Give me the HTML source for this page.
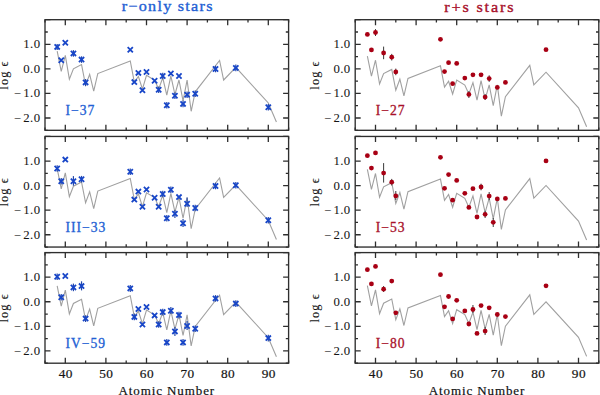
<!DOCTYPE html>
<html><head><meta charset="utf-8"><style>
html,body{margin:0;padding:0;background:#fff;overflow:hidden}
svg{display:block}
text{font-family:"Liberation Serif",serif}
.tl{font-size:11.6px;fill:#151515;stroke:#151515;stroke-width:0.05px;letter-spacing:0.35px}
.le{font-size:12.3px;fill:#151515;stroke:#151515;stroke-width:0.12px;letter-spacing:1.1px}
.sl{font-size:13.6px;letter-spacing:1.0px;stroke-width:0.3px}
.ax{font-size:13px;fill:#111;stroke:#111;stroke-width:0.2px;letter-spacing:0.9px}
.ti{font-size:15px;stroke-width:0.35px;letter-spacing:1.7px}
</style></head><body>
<svg width="600" height="395" viewBox="0 0 600 395">
<rect width="600" height="395" fill="#fff"/>
<polyline points="57.18,51.20 61.24,71.40 65.30,55.40 69.36,79.20 73.42,68.80 81.54,64.60 85.60,85.30 89.66,74.40 93.72,91.10 97.78,73.60 130.26,61.00 134.32,82.20 138.38,76.40 142.44,89.20 146.50,75.30 154.62,80.20 158.68,89.10 162.74,77.80 166.80,95.20 170.86,75.90 174.92,94.50 178.98,80.00 183.04,100.80 187.10,80.10 191.16,111.30 195.22,91.80 219.58,60.50 223.64,80.00 235.82,67.40 268.30,103.00 276.42,122.00" fill="none" stroke="#a0a0a0" stroke-width="1.1" stroke-linejoin="miter"/>
<line x1="57.18" y1="44" x2="57.18" y2="50" stroke="#2448a8" stroke-width="1.2"/>
<path d="M54.58,44.30L59.78,49.50M54.58,49.50L59.78,44.30" stroke="#1846c8" stroke-width="1.8" fill="none"/>
<path d="M58.64,57.70L63.84,62.90M58.64,62.90L63.84,57.70" stroke="#1846c8" stroke-width="1.8" fill="none"/>
<path d="M62.70,40.20L67.90,45.40M62.70,45.40L67.90,40.20" stroke="#1846c8" stroke-width="1.8" fill="none"/>
<line x1="73.42" y1="50.1" x2="73.42" y2="56.699999999999996" stroke="#2448a8" stroke-width="1.2"/>
<path d="M70.82,50.80L76.02,56.00M70.82,56.00L76.02,50.80" stroke="#1846c8" stroke-width="1.8" fill="none"/>
<line x1="81.54" y1="56.300000000000004" x2="81.54" y2="62.9" stroke="#2448a8" stroke-width="1.2"/>
<path d="M78.94,57.00L84.14,62.20M78.94,62.20L84.14,57.00" stroke="#1846c8" stroke-width="1.8" fill="none"/>
<line x1="85.60" y1="79" x2="85.60" y2="86" stroke="#2448a8" stroke-width="1.2"/>
<path d="M83.00,79.80L88.20,85.00M83.00,85.00L88.20,79.80" stroke="#1846c8" stroke-width="1.8" fill="none"/>
<path d="M127.66,47.20L132.86,52.40M127.66,52.40L132.86,47.20" stroke="#1846c8" stroke-width="1.8" fill="none"/>
<path d="M131.72,79.50L136.92,84.70M131.72,84.70L136.92,79.50" stroke="#1846c8" stroke-width="1.8" fill="none"/>
<path d="M135.78,70.30L140.98,75.50M135.78,75.50L140.98,70.30" stroke="#1846c8" stroke-width="1.8" fill="none"/>
<path d="M139.84,87.70L145.04,92.90M139.84,92.90L145.04,87.70" stroke="#1846c8" stroke-width="1.8" fill="none"/>
<path d="M143.90,69.40L149.10,74.60M143.90,74.60L149.10,69.40" stroke="#1846c8" stroke-width="1.8" fill="none"/>
<path d="M152.02,78.20L157.22,83.40M152.02,83.40L157.22,78.20" stroke="#1846c8" stroke-width="1.8" fill="none"/>
<line x1="158.68" y1="86.4" x2="158.68" y2="93.0" stroke="#2448a8" stroke-width="1.2"/>
<path d="M156.08,87.10L161.28,92.30M156.08,92.30L161.28,87.10" stroke="#1846c8" stroke-width="1.8" fill="none"/>
<line x1="162.74" y1="72.7" x2="162.74" y2="79.3" stroke="#2448a8" stroke-width="1.2"/>
<path d="M160.14,73.40L165.34,78.60M160.14,78.60L165.34,73.40" stroke="#1846c8" stroke-width="1.8" fill="none"/>
<line x1="166.80" y1="101.9" x2="166.80" y2="108.5" stroke="#2448a8" stroke-width="1.2"/>
<path d="M164.20,102.60L169.40,107.80M164.20,107.80L169.40,102.60" stroke="#1846c8" stroke-width="1.8" fill="none"/>
<path d="M168.26,70.90L173.46,76.10M168.26,76.10L173.46,70.90" stroke="#1846c8" stroke-width="1.8" fill="none"/>
<line x1="174.92" y1="92.4" x2="174.92" y2="99.0" stroke="#2448a8" stroke-width="1.2"/>
<path d="M172.32,93.10L177.52,98.30M172.32,98.30L177.52,93.10" stroke="#1846c8" stroke-width="1.8" fill="none"/>
<path d="M176.38,73.40L181.58,78.60M176.38,78.60L181.58,73.40" stroke="#1846c8" stroke-width="1.8" fill="none"/>
<line x1="183.04" y1="100.60000000000001" x2="183.04" y2="107.2" stroke="#2448a8" stroke-width="1.2"/>
<path d="M180.44,101.30L185.64,106.50M180.44,106.50L185.64,101.30" stroke="#1846c8" stroke-width="1.8" fill="none"/>
<line x1="187.10" y1="91.5" x2="187.10" y2="98.1" stroke="#2448a8" stroke-width="1.2"/>
<path d="M184.50,92.20L189.70,97.40M184.50,97.40L189.70,92.20" stroke="#1846c8" stroke-width="1.8" fill="none"/>
<line x1="195.22" y1="90.5" x2="195.22" y2="97.1" stroke="#2448a8" stroke-width="1.2"/>
<path d="M192.62,91.20L197.82,96.40M192.62,96.40L197.82,91.20" stroke="#1846c8" stroke-width="1.8" fill="none"/>
<line x1="215.52" y1="65.7" x2="215.52" y2="72.3" stroke="#2448a8" stroke-width="1.2"/>
<path d="M212.92,66.40L218.12,71.60M212.92,71.60L218.12,66.40" stroke="#1846c8" stroke-width="1.8" fill="none"/>
<line x1="235.82" y1="64.60000000000001" x2="235.82" y2="71.2" stroke="#2448a8" stroke-width="1.2"/>
<path d="M233.22,65.30L238.42,70.50M233.22,70.50L238.42,65.30" stroke="#1846c8" stroke-width="1.8" fill="none"/>
<line x1="268.30" y1="104.0" x2="268.30" y2="110.6" stroke="#2448a8" stroke-width="1.2"/>
<path d="M265.70,104.70L270.90,109.90M265.70,109.90L270.90,104.70" stroke="#1846c8" stroke-width="1.8" fill="none"/>
<path d="M45.00,130.29999999999998v-2.8M45.00,19.7v2.8M65.30,130.29999999999998v-5.5M65.30,19.7v5.5M85.60,130.29999999999998v-2.8M85.60,19.7v2.8M105.90,130.29999999999998v-5.5M105.90,19.7v5.5M126.20,130.29999999999998v-2.8M126.20,19.7v2.8M146.50,130.29999999999998v-5.5M146.50,19.7v5.5M166.80,130.29999999999998v-2.8M166.80,19.7v2.8M187.10,130.29999999999998v-5.5M187.10,19.7v5.5M207.40,130.29999999999998v-2.8M207.40,19.7v2.8M227.70,130.29999999999998v-5.5M227.70,19.7v5.5M248.00,130.29999999999998v-2.8M248.00,19.7v2.8M268.30,130.29999999999998v-5.5M268.30,19.7v5.5M288.60,130.29999999999998v-2.8M288.60,19.7v2.8M45.0,130.30h2.8M288.6,130.30h-2.8M45.0,118.01h5.5M288.6,118.01h-5.5M45.0,105.72h2.8M288.6,105.72h-2.8M45.0,93.43h5.5M288.6,93.43h-5.5M45.0,81.14h2.8M288.6,81.14h-2.8M45.0,68.86h5.5M288.6,68.86h-5.5M45.0,56.57h2.8M288.6,56.57h-2.8M45.0,44.28h5.5M288.6,44.28h-5.5M45.0,31.99h2.8M288.6,31.99h-2.8M45.0,19.70h5.5M288.6,19.70h-5.5" stroke="#2e2e2e" stroke-width="1.3" fill="none"/>
<rect x="45.0" y="19.7" width="243.6" height="110.6" fill="none" stroke="#2e2e2e" stroke-width="1.35"/>
<text class="tl" text-anchor="end" transform="translate(40.4,48.2) scale(1.1,1)">1.0</text>
<text class="tl" text-anchor="end" transform="translate(40.4,72.8) scale(1.1,1)">0.0</text>
<text class="tl" text-anchor="end" transform="translate(40.4,97.3) scale(1.1,1)">−<tspan dx="1.6">1.0</tspan></text>
<text class="tl" text-anchor="end" transform="translate(40.4,121.9) scale(1.1,1)">−<tspan dx="1.6">2.0</tspan></text>
<text x="0" y="0" class="le" text-anchor="middle" transform="translate(8.2,75.0) rotate(-90)">log ϵ</text>
<text x="65.5" y="115.3" class="sl" fill="#2260d4" stroke="#2260d4">I−37</text>
<polyline points="57.18,168.64 61.24,188.84 65.30,172.84 69.36,196.64 73.42,186.24 81.54,182.04 85.60,202.74 89.66,191.84 93.72,208.54 97.78,191.04 130.26,178.44 134.32,199.64 138.38,193.84 142.44,206.64 146.50,192.74 154.62,197.64 158.68,206.54 162.74,195.24 166.80,212.64 170.86,193.34 174.92,211.94 178.98,197.44 183.04,218.24 187.10,197.54 191.16,228.74 195.22,209.24 219.58,177.94 223.64,197.44 235.82,184.84 268.30,220.44 276.42,239.44" fill="none" stroke="#a0a0a0" stroke-width="1.1" stroke-linejoin="miter"/>
<line x1="57.18" y1="165.2" x2="57.18" y2="171.8" stroke="#2448a8" stroke-width="1.2"/>
<path d="M54.58,165.90L59.78,171.10M54.58,171.10L59.78,165.90" stroke="#1846c8" stroke-width="1.8" fill="none"/>
<line x1="61.24" y1="177.89999999999998" x2="61.24" y2="184.5" stroke="#2448a8" stroke-width="1.2"/>
<path d="M58.64,178.60L63.84,183.80M58.64,183.80L63.84,178.60" stroke="#1846c8" stroke-width="1.8" fill="none"/>
<path d="M62.70,157.00L67.90,162.20M62.70,162.20L67.90,157.00" stroke="#1846c8" stroke-width="1.8" fill="none"/>
<line x1="73.42" y1="176.1" x2="73.42" y2="185.7" stroke="#2448a8" stroke-width="1.2"/>
<path d="M70.82,178.60L76.02,183.80M70.82,183.80L76.02,178.60" stroke="#1846c8" stroke-width="1.8" fill="none"/>
<line x1="81.54" y1="175.89999999999998" x2="81.54" y2="182.5" stroke="#2448a8" stroke-width="1.2"/>
<path d="M78.94,176.60L84.14,181.80M78.94,181.80L84.14,176.60" stroke="#1846c8" stroke-width="1.8" fill="none"/>
<line x1="130.26" y1="168.5" x2="130.26" y2="175.10000000000002" stroke="#2448a8" stroke-width="1.2"/>
<path d="M127.66,169.20L132.86,174.40M127.66,174.40L132.86,169.20" stroke="#1846c8" stroke-width="1.8" fill="none"/>
<path d="M131.72,197.00L136.92,202.20M131.72,202.20L136.92,197.00" stroke="#1846c8" stroke-width="1.8" fill="none"/>
<path d="M135.78,189.00L140.98,194.20M135.78,194.20L140.98,189.00" stroke="#1846c8" stroke-width="1.8" fill="none"/>
<path d="M139.84,204.20L145.04,209.40M139.84,209.40L145.04,204.20" stroke="#1846c8" stroke-width="1.8" fill="none"/>
<path d="M143.90,186.90L149.10,192.10M143.90,192.10L149.10,186.90" stroke="#1846c8" stroke-width="1.8" fill="none"/>
<path d="M152.02,195.20L157.22,200.40M152.02,200.40L157.22,195.20" stroke="#1846c8" stroke-width="1.8" fill="none"/>
<path d="M156.08,204.20L161.28,209.40M156.08,209.40L161.28,204.20" stroke="#1846c8" stroke-width="1.8" fill="none"/>
<line x1="162.74" y1="190.7" x2="162.74" y2="197.3" stroke="#2448a8" stroke-width="1.2"/>
<path d="M160.14,191.40L165.34,196.60M160.14,196.60L165.34,191.40" stroke="#1846c8" stroke-width="1.8" fill="none"/>
<line x1="166.80" y1="215.0" x2="166.80" y2="221.60000000000002" stroke="#2448a8" stroke-width="1.2"/>
<path d="M164.20,215.70L169.40,220.90M164.20,220.90L169.40,215.70" stroke="#1846c8" stroke-width="1.8" fill="none"/>
<line x1="170.86" y1="186.5" x2="170.86" y2="193.10000000000002" stroke="#2448a8" stroke-width="1.2"/>
<path d="M168.26,187.20L173.46,192.40M168.26,192.40L173.46,187.20" stroke="#1846c8" stroke-width="1.8" fill="none"/>
<line x1="174.92" y1="210" x2="174.92" y2="218" stroke="#2448a8" stroke-width="1.2"/>
<path d="M172.32,211.20L177.52,216.40M172.32,216.40L177.52,211.20" stroke="#1846c8" stroke-width="1.8" fill="none"/>
<path d="M176.38,194.50L181.58,199.70M176.38,199.70L181.58,194.50" stroke="#1846c8" stroke-width="1.8" fill="none"/>
<line x1="183.04" y1="219" x2="183.04" y2="227" stroke="#2448a8" stroke-width="1.2"/>
<path d="M180.44,220.60L185.64,225.80M180.44,225.80L185.64,220.60" stroke="#1846c8" stroke-width="1.8" fill="none"/>
<line x1="187.10" y1="197.4" x2="187.10" y2="207" stroke="#2448a8" stroke-width="1.2"/>
<path d="M184.50,201.10L189.70,206.30M184.50,206.30L189.70,201.10" stroke="#1846c8" stroke-width="1.8" fill="none"/>
<line x1="195.22" y1="204.7" x2="195.22" y2="211.3" stroke="#2448a8" stroke-width="1.2"/>
<path d="M192.62,205.40L197.82,210.60M192.62,210.60L197.82,205.40" stroke="#1846c8" stroke-width="1.8" fill="none"/>
<line x1="215.52" y1="182.7" x2="215.52" y2="189.3" stroke="#2448a8" stroke-width="1.2"/>
<path d="M212.92,183.40L218.12,188.60M212.92,188.60L218.12,183.40" stroke="#1846c8" stroke-width="1.8" fill="none"/>
<line x1="235.82" y1="181.89999999999998" x2="235.82" y2="188.5" stroke="#2448a8" stroke-width="1.2"/>
<path d="M233.22,182.60L238.42,187.80M233.22,187.80L238.42,182.60" stroke="#1846c8" stroke-width="1.8" fill="none"/>
<line x1="268.30" y1="217.0" x2="268.30" y2="223.60000000000002" stroke="#2448a8" stroke-width="1.2"/>
<path d="M265.70,217.70L270.90,222.90M265.70,222.90L270.90,217.70" stroke="#1846c8" stroke-width="1.8" fill="none"/>
<path d="M45.00,247.04999999999998v-2.8M45.00,136.45v2.8M65.30,247.04999999999998v-5.5M65.30,136.45v5.5M85.60,247.04999999999998v-2.8M85.60,136.45v2.8M105.90,247.04999999999998v-5.5M105.90,136.45v5.5M126.20,247.04999999999998v-2.8M126.20,136.45v2.8M146.50,247.04999999999998v-5.5M146.50,136.45v5.5M166.80,247.04999999999998v-2.8M166.80,136.45v2.8M187.10,247.04999999999998v-5.5M187.10,136.45v5.5M207.40,247.04999999999998v-2.8M207.40,136.45v2.8M227.70,247.04999999999998v-5.5M227.70,136.45v5.5M248.00,247.04999999999998v-2.8M248.00,136.45v2.8M268.30,247.04999999999998v-5.5M268.30,136.45v5.5M288.60,247.04999999999998v-2.8M288.60,136.45v2.8M45.0,247.05h2.8M288.6,247.05h-2.8M45.0,234.76h5.5M288.6,234.76h-5.5M45.0,222.47h2.8M288.6,222.47h-2.8M45.0,210.18h5.5M288.6,210.18h-5.5M45.0,197.89h2.8M288.6,197.89h-2.8M45.0,185.61h5.5M288.6,185.61h-5.5M45.0,173.32h2.8M288.6,173.32h-2.8M45.0,161.03h5.5M288.6,161.03h-5.5M45.0,148.74h2.8M288.6,148.74h-2.8M45.0,136.45h5.5M288.6,136.45h-5.5" stroke="#2e2e2e" stroke-width="1.3" fill="none"/>
<rect x="45.0" y="136.45" width="243.6" height="110.6" fill="none" stroke="#2e2e2e" stroke-width="1.35"/>
<text class="tl" text-anchor="end" transform="translate(40.4,164.9) scale(1.1,1)">1.0</text>
<text class="tl" text-anchor="end" transform="translate(40.4,189.5) scale(1.1,1)">0.0</text>
<text class="tl" text-anchor="end" transform="translate(40.4,214.1) scale(1.1,1)">−<tspan dx="1.6">1.0</tspan></text>
<text class="tl" text-anchor="end" transform="translate(40.4,238.7) scale(1.1,1)">−<tspan dx="1.6">2.0</tspan></text>
<text x="0" y="0" class="le" text-anchor="middle" transform="translate(8.2,191.8) rotate(-90)">log ϵ</text>
<text x="65.5" y="232.0" class="sl" fill="#2260d4" stroke="#2260d4">III−33</text>
<polyline points="57.18,285.90 61.24,306.10 65.30,290.10 69.36,313.90 73.42,303.50 81.54,299.30 85.60,320.00 89.66,309.10 93.72,325.80 97.78,308.30 130.26,295.70 134.32,316.90 138.38,311.10 142.44,323.90 146.50,310.00 154.62,314.90 158.68,323.80 162.74,312.50 166.80,329.90 170.86,310.60 174.92,329.20 178.98,314.70 183.04,335.50 187.10,314.80 191.16,346.00 195.22,326.50 219.58,295.20 223.64,314.70 235.82,302.10 268.30,337.70 276.42,356.70" fill="none" stroke="#a0a0a0" stroke-width="1.1" stroke-linejoin="miter"/>
<line x1="57.18" y1="273.4" x2="57.18" y2="280.0" stroke="#2448a8" stroke-width="1.2"/>
<path d="M54.58,274.10L59.78,279.30M54.58,279.30L59.78,274.10" stroke="#1846c8" stroke-width="1.8" fill="none"/>
<line x1="61.24" y1="293.9" x2="61.24" y2="300.5" stroke="#2448a8" stroke-width="1.2"/>
<path d="M58.64,294.60L63.84,299.80M58.64,299.80L63.84,294.60" stroke="#1846c8" stroke-width="1.8" fill="none"/>
<path d="M62.70,273.40L67.90,278.60M62.70,278.60L67.90,273.40" stroke="#1846c8" stroke-width="1.8" fill="none"/>
<line x1="73.42" y1="283.6" x2="73.42" y2="291.2" stroke="#2448a8" stroke-width="1.2"/>
<path d="M70.82,284.80L76.02,290.00M70.82,290.00L76.02,284.80" stroke="#1846c8" stroke-width="1.8" fill="none"/>
<line x1="81.54" y1="281.3" x2="81.54" y2="290.4" stroke="#2448a8" stroke-width="1.2"/>
<path d="M78.94,283.50L84.14,288.70M78.94,288.70L84.14,283.50" stroke="#1846c8" stroke-width="1.8" fill="none"/>
<line x1="85.60" y1="315.3" x2="85.60" y2="321.90000000000003" stroke="#2448a8" stroke-width="1.2"/>
<path d="M83.00,316.00L88.20,321.20M83.00,321.20L88.20,316.00" stroke="#1846c8" stroke-width="1.8" fill="none"/>
<line x1="130.26" y1="285" x2="130.26" y2="292" stroke="#2448a8" stroke-width="1.2"/>
<path d="M127.66,285.80L132.86,291.00M127.66,291.00L132.86,285.80" stroke="#1846c8" stroke-width="1.8" fill="none"/>
<line x1="134.32" y1="313.59999999999997" x2="134.32" y2="320.2" stroke="#2448a8" stroke-width="1.2"/>
<path d="M131.72,314.30L136.92,319.50M131.72,319.50L136.92,314.30" stroke="#1846c8" stroke-width="1.8" fill="none"/>
<path d="M135.78,306.40L140.98,311.60M135.78,311.60L140.98,306.40" stroke="#1846c8" stroke-width="1.8" fill="none"/>
<path d="M139.84,321.90L145.04,327.10M139.84,327.10L145.04,321.90" stroke="#1846c8" stroke-width="1.8" fill="none"/>
<path d="M143.90,304.40L149.10,309.60M143.90,309.60L149.10,304.40" stroke="#1846c8" stroke-width="1.8" fill="none"/>
<path d="M152.02,312.80L157.22,318.00M152.02,318.00L157.22,312.80" stroke="#1846c8" stroke-width="1.8" fill="none"/>
<line x1="158.68" y1="321.2" x2="158.68" y2="327.8" stroke="#2448a8" stroke-width="1.2"/>
<path d="M156.08,321.90L161.28,327.10M156.08,327.10L161.28,321.90" stroke="#1846c8" stroke-width="1.8" fill="none"/>
<line x1="162.74" y1="308.8" x2="162.74" y2="315.40000000000003" stroke="#2448a8" stroke-width="1.2"/>
<path d="M160.14,309.50L165.34,314.70M160.14,314.70L165.34,309.50" stroke="#1846c8" stroke-width="1.8" fill="none"/>
<line x1="166.80" y1="339.09999999999997" x2="166.80" y2="345.7" stroke="#2448a8" stroke-width="1.2"/>
<path d="M164.20,339.80L169.40,345.00M164.20,345.00L169.40,339.80" stroke="#1846c8" stroke-width="1.8" fill="none"/>
<line x1="170.86" y1="307" x2="170.86" y2="314" stroke="#2448a8" stroke-width="1.2"/>
<path d="M168.26,308.20L173.46,313.40M168.26,313.40L173.46,308.20" stroke="#1846c8" stroke-width="1.8" fill="none"/>
<line x1="174.92" y1="327" x2="174.92" y2="336" stroke="#2448a8" stroke-width="1.2"/>
<path d="M172.32,328.80L177.52,334.00M172.32,334.00L177.52,328.80" stroke="#1846c8" stroke-width="1.8" fill="none"/>
<line x1="178.98" y1="311.8" x2="178.98" y2="318.40000000000003" stroke="#2448a8" stroke-width="1.2"/>
<path d="M176.38,312.50L181.58,317.70M176.38,317.70L181.58,312.50" stroke="#1846c8" stroke-width="1.8" fill="none"/>
<line x1="183.04" y1="339.09999999999997" x2="183.04" y2="345.7" stroke="#2448a8" stroke-width="1.2"/>
<path d="M180.44,339.80L185.64,345.00M180.44,345.00L185.64,339.80" stroke="#1846c8" stroke-width="1.8" fill="none"/>
<line x1="187.10" y1="321" x2="187.10" y2="330" stroke="#2448a8" stroke-width="1.2"/>
<path d="M184.50,323.40L189.70,328.60M184.50,328.60L189.70,323.40" stroke="#1846c8" stroke-width="1.8" fill="none"/>
<line x1="195.22" y1="325.5" x2="195.22" y2="332.1" stroke="#2448a8" stroke-width="1.2"/>
<path d="M192.62,326.20L197.82,331.40M192.62,331.40L197.82,326.20" stroke="#1846c8" stroke-width="1.8" fill="none"/>
<line x1="215.52" y1="295.09999999999997" x2="215.52" y2="301.7" stroke="#2448a8" stroke-width="1.2"/>
<path d="M212.92,295.80L218.12,301.00M212.92,301.00L218.12,295.80" stroke="#1846c8" stroke-width="1.8" fill="none"/>
<line x1="235.82" y1="300.3" x2="235.82" y2="306.90000000000003" stroke="#2448a8" stroke-width="1.2"/>
<path d="M233.22,301.00L238.42,306.20M233.22,306.20L238.42,301.00" stroke="#1846c8" stroke-width="1.8" fill="none"/>
<line x1="268.30" y1="334.8" x2="268.30" y2="341.40000000000003" stroke="#2448a8" stroke-width="1.2"/>
<path d="M265.70,335.50L270.90,340.70M265.70,340.70L270.90,335.50" stroke="#1846c8" stroke-width="1.8" fill="none"/>
<path d="M45.00,363.2v-2.8M45.00,252.6v2.8M65.30,363.2v-5.5M65.30,252.6v5.5M85.60,363.2v-2.8M85.60,252.6v2.8M105.90,363.2v-5.5M105.90,252.6v5.5M126.20,363.2v-2.8M126.20,252.6v2.8M146.50,363.2v-5.5M146.50,252.6v5.5M166.80,363.2v-2.8M166.80,252.6v2.8M187.10,363.2v-5.5M187.10,252.6v5.5M207.40,363.2v-2.8M207.40,252.6v2.8M227.70,363.2v-5.5M227.70,252.6v5.5M248.00,363.2v-2.8M248.00,252.6v2.8M268.30,363.2v-5.5M268.30,252.6v5.5M288.60,363.2v-2.8M288.60,252.6v2.8M45.0,363.20h2.8M288.6,363.20h-2.8M45.0,350.91h5.5M288.6,350.91h-5.5M45.0,338.62h2.8M288.6,338.62h-2.8M45.0,326.33h5.5M288.6,326.33h-5.5M45.0,314.04h2.8M288.6,314.04h-2.8M45.0,301.76h5.5M288.6,301.76h-5.5M45.0,289.47h2.8M288.6,289.47h-2.8M45.0,277.18h5.5M288.6,277.18h-5.5M45.0,264.89h2.8M288.6,264.89h-2.8M45.0,252.60h5.5M288.6,252.60h-5.5" stroke="#2e2e2e" stroke-width="1.3" fill="none"/>
<rect x="45.0" y="252.6" width="243.6" height="110.6" fill="none" stroke="#2e2e2e" stroke-width="1.35"/>
<text class="tl" text-anchor="end" transform="translate(40.4,281.1) scale(1.1,1)">1.0</text>
<text class="tl" text-anchor="end" transform="translate(40.4,305.7) scale(1.1,1)">0.0</text>
<text class="tl" text-anchor="end" transform="translate(40.4,330.2) scale(1.1,1)">−<tspan dx="1.6">1.0</tspan></text>
<text class="tl" text-anchor="end" transform="translate(40.4,354.8) scale(1.1,1)">−<tspan dx="1.6">2.0</tspan></text>
<text x="0" y="0" class="le" text-anchor="middle" transform="translate(8.2,307.9) rotate(-90)">log ϵ</text>
<text x="65.5" y="348.2" class="sl" fill="#2260d4" stroke="#2260d4">IV−59</text>
<text class="tl" style="font-size:12.1px;stroke-width:0.2px" text-anchor="middle" transform="translate(65.70,377.9) scale(1.1,1)">40</text>
<text class="tl" style="font-size:12.1px;stroke-width:0.2px" text-anchor="middle" transform="translate(106.30,377.9) scale(1.1,1)">50</text>
<text class="tl" style="font-size:12.1px;stroke-width:0.2px" text-anchor="middle" transform="translate(146.90,377.9) scale(1.1,1)">60</text>
<text class="tl" style="font-size:12.1px;stroke-width:0.2px" text-anchor="middle" transform="translate(187.50,377.9) scale(1.1,1)">70</text>
<text class="tl" style="font-size:12.1px;stroke-width:0.2px" text-anchor="middle" transform="translate(228.10,377.9) scale(1.1,1)">80</text>
<text class="tl" style="font-size:12.1px;stroke-width:0.2px" text-anchor="middle" transform="translate(268.70,377.9) scale(1.1,1)">90</text>
<text x="166.8" y="395.2" class="ax" text-anchor="middle">Atomic Number</text>
<polyline points="367.38,56.02 371.44,76.22 375.50,60.22 379.56,84.02 383.62,73.62 391.74,69.42 395.80,90.12 399.86,79.22 403.92,95.92 407.98,78.42 440.46,65.82 444.52,87.02 448.58,81.22 452.64,94.02 456.70,80.12 464.82,85.02 468.88,93.92 472.94,82.62 477.00,100.02 481.06,80.72 485.12,99.32 489.18,84.82 493.24,105.62 497.30,84.92 501.36,116.12 505.42,96.62 529.78,65.32 533.84,84.82 546.02,72.22 578.50,107.82 586.62,126.82" fill="none" stroke="#a0a0a0" stroke-width="1.1" stroke-linejoin="miter"/>
<circle cx="367.38" cy="34.40" r="2.4" fill="#a80014"/>
<circle cx="371.44" cy="49.90" r="2.4" fill="#a80014"/>
<line x1="375.50" y1="29.1" x2="375.50" y2="36" stroke="#3a3a3a" stroke-width="1.0"/>
<circle cx="375.50" cy="32.50" r="2.4" fill="#a80014"/>
<line x1="383.62" y1="46.6" x2="383.62" y2="59.2" stroke="#3a3a3a" stroke-width="1.0"/>
<circle cx="383.62" cy="53.00" r="2.4" fill="#a80014"/>
<line x1="391.74" y1="53.900000000000006" x2="391.74" y2="60.5" stroke="#3a3a3a" stroke-width="1.0"/>
<circle cx="391.74" cy="57.20" r="2.4" fill="#a80014"/>
<line x1="395.80" y1="68.60000000000001" x2="395.80" y2="75.2" stroke="#3a3a3a" stroke-width="1.0"/>
<circle cx="395.80" cy="71.90" r="2.4" fill="#a80014"/>
<circle cx="440.46" cy="39.30" r="2.4" fill="#a80014"/>
<circle cx="444.52" cy="71.60" r="2.4" fill="#a80014"/>
<circle cx="448.58" cy="62.70" r="2.4" fill="#a80014"/>
<circle cx="452.64" cy="83.70" r="2.4" fill="#a80014"/>
<circle cx="456.70" cy="63.40" r="2.4" fill="#a80014"/>
<circle cx="464.82" cy="78.10" r="2.4" fill="#a80014"/>
<line x1="468.88" y1="91" x2="468.88" y2="98" stroke="#3a3a3a" stroke-width="1.0"/>
<circle cx="468.88" cy="94.40" r="2.4" fill="#a80014"/>
<circle cx="472.94" cy="74.80" r="2.4" fill="#a80014"/>
<circle cx="481.06" cy="74.80" r="2.4" fill="#a80014"/>
<line x1="485.12" y1="94" x2="485.12" y2="100" stroke="#3a3a3a" stroke-width="1.0"/>
<circle cx="485.12" cy="97.10" r="2.4" fill="#a80014"/>
<line x1="489.18" y1="75.3" x2="489.18" y2="81.89999999999999" stroke="#3a3a3a" stroke-width="1.0"/>
<circle cx="489.18" cy="78.60" r="2.4" fill="#a80014"/>
<circle cx="497.30" cy="87.40" r="2.4" fill="#a80014"/>
<circle cx="505.42" cy="82.40" r="2.4" fill="#a80014"/>
<circle cx="546.02" cy="49.70" r="2.4" fill="#a80014"/>
<path d="M355.20,130.29999999999998v-2.8M355.20,19.7v2.8M375.50,130.29999999999998v-5.5M375.50,19.7v5.5M395.80,130.29999999999998v-2.8M395.80,19.7v2.8M416.10,130.29999999999998v-5.5M416.10,19.7v5.5M436.40,130.29999999999998v-2.8M436.40,19.7v2.8M456.70,130.29999999999998v-5.5M456.70,19.7v5.5M477.00,130.29999999999998v-2.8M477.00,19.7v2.8M497.30,130.29999999999998v-5.5M497.30,19.7v5.5M517.60,130.29999999999998v-2.8M517.60,19.7v2.8M537.90,130.29999999999998v-5.5M537.90,19.7v5.5M558.20,130.29999999999998v-2.8M558.20,19.7v2.8M578.50,130.29999999999998v-5.5M578.50,19.7v5.5M598.80,130.29999999999998v-2.8M598.80,19.7v2.8M355.2,130.30h2.8M598.8,130.30h-2.8M355.2,118.01h5.5M598.8,118.01h-5.5M355.2,105.72h2.8M598.8,105.72h-2.8M355.2,93.43h5.5M598.8,93.43h-5.5M355.2,81.14h2.8M598.8,81.14h-2.8M355.2,68.86h5.5M598.8,68.86h-5.5M355.2,56.57h2.8M598.8,56.57h-2.8M355.2,44.28h5.5M598.8,44.28h-5.5M355.2,31.99h2.8M598.8,31.99h-2.8M355.2,19.70h5.5M598.8,19.70h-5.5" stroke="#2e2e2e" stroke-width="1.3" fill="none"/>
<rect x="355.2" y="19.7" width="243.6" height="110.6" fill="none" stroke="#2e2e2e" stroke-width="1.35"/>
<text class="tl" text-anchor="end" transform="translate(350.6,48.2) scale(1.1,1)">1.0</text>
<text class="tl" text-anchor="end" transform="translate(350.6,72.8) scale(1.1,1)">0.0</text>
<text class="tl" text-anchor="end" transform="translate(350.6,97.3) scale(1.1,1)">−<tspan dx="1.6">1.0</tspan></text>
<text class="tl" text-anchor="end" transform="translate(350.6,121.9) scale(1.1,1)">−<tspan dx="1.6">2.0</tspan></text>
<text x="0" y="0" class="le" text-anchor="middle" transform="translate(318.9,75.0) rotate(-90)">log ϵ</text>
<text x="375.7" y="115.3" class="sl" fill="#a8102a" stroke="#a8102a">I−27</text>
<polyline points="367.38,169.27 371.44,189.47 375.50,173.47 379.56,197.27 383.62,186.87 391.74,182.67 395.80,203.37 399.86,192.47 403.92,209.17 407.98,191.67 440.46,179.07 444.52,200.27 448.58,194.47 452.64,207.27 456.70,193.37 464.82,198.27 468.88,207.17 472.94,195.87 477.00,213.27 481.06,193.97 485.12,212.57 489.18,198.07 493.24,218.87 497.30,198.17 501.36,229.37 505.42,209.87 529.78,178.57 533.84,198.07 546.02,185.47 578.50,221.07 586.62,240.07" fill="none" stroke="#a0a0a0" stroke-width="1.1" stroke-linejoin="miter"/>
<circle cx="367.38" cy="155.70" r="2.4" fill="#a80014"/>
<circle cx="371.44" cy="168.10" r="2.4" fill="#a80014"/>
<circle cx="375.50" cy="152.90" r="2.4" fill="#a80014"/>
<line x1="383.62" y1="163.1" x2="383.62" y2="182.6" stroke="#3a3a3a" stroke-width="1.0"/>
<circle cx="383.62" cy="173.10" r="2.4" fill="#a80014"/>
<line x1="391.74" y1="178.89999999999998" x2="391.74" y2="185.5" stroke="#3a3a3a" stroke-width="1.0"/>
<circle cx="391.74" cy="182.20" r="2.4" fill="#a80014"/>
<line x1="395.80" y1="191" x2="395.80" y2="200" stroke="#3a3a3a" stroke-width="1.0"/>
<circle cx="395.80" cy="195.90" r="2.4" fill="#a80014"/>
<circle cx="440.46" cy="157.30" r="2.4" fill="#a80014"/>
<circle cx="444.52" cy="188.30" r="2.4" fill="#a80014"/>
<circle cx="448.58" cy="174.60" r="2.4" fill="#a80014"/>
<circle cx="452.64" cy="200.20" r="2.4" fill="#a80014"/>
<circle cx="456.70" cy="180.40" r="2.4" fill="#a80014"/>
<circle cx="464.82" cy="193.30" r="2.4" fill="#a80014"/>
<circle cx="468.88" cy="207.40" r="2.4" fill="#a80014"/>
<circle cx="472.94" cy="188.70" r="2.4" fill="#a80014"/>
<circle cx="477.00" cy="217.00" r="2.4" fill="#a80014"/>
<line x1="481.06" y1="183.7" x2="481.06" y2="190.3" stroke="#3a3a3a" stroke-width="1.0"/>
<circle cx="481.06" cy="187.00" r="2.4" fill="#a80014"/>
<line x1="485.12" y1="211" x2="485.12" y2="218" stroke="#3a3a3a" stroke-width="1.0"/>
<circle cx="485.12" cy="214.30" r="2.4" fill="#a80014"/>
<line x1="489.18" y1="192" x2="489.18" y2="200" stroke="#3a3a3a" stroke-width="1.0"/>
<circle cx="489.18" cy="196.10" r="2.4" fill="#a80014"/>
<line x1="493.24" y1="218" x2="493.24" y2="227" stroke="#3a3a3a" stroke-width="1.0"/>
<circle cx="493.24" cy="222.30" r="2.4" fill="#a80014"/>
<circle cx="497.30" cy="198.90" r="2.4" fill="#a80014"/>
<circle cx="505.42" cy="198.40" r="2.4" fill="#a80014"/>
<circle cx="546.02" cy="160.90" r="2.4" fill="#a80014"/>
<path d="M355.20,247.04999999999998v-2.8M355.20,136.45v2.8M375.50,247.04999999999998v-5.5M375.50,136.45v5.5M395.80,247.04999999999998v-2.8M395.80,136.45v2.8M416.10,247.04999999999998v-5.5M416.10,136.45v5.5M436.40,247.04999999999998v-2.8M436.40,136.45v2.8M456.70,247.04999999999998v-5.5M456.70,136.45v5.5M477.00,247.04999999999998v-2.8M477.00,136.45v2.8M497.30,247.04999999999998v-5.5M497.30,136.45v5.5M517.60,247.04999999999998v-2.8M517.60,136.45v2.8M537.90,247.04999999999998v-5.5M537.90,136.45v5.5M558.20,247.04999999999998v-2.8M558.20,136.45v2.8M578.50,247.04999999999998v-5.5M578.50,136.45v5.5M598.80,247.04999999999998v-2.8M598.80,136.45v2.8M355.2,247.05h2.8M598.8,247.05h-2.8M355.2,234.76h5.5M598.8,234.76h-5.5M355.2,222.47h2.8M598.8,222.47h-2.8M355.2,210.18h5.5M598.8,210.18h-5.5M355.2,197.89h2.8M598.8,197.89h-2.8M355.2,185.61h5.5M598.8,185.61h-5.5M355.2,173.32h2.8M598.8,173.32h-2.8M355.2,161.03h5.5M598.8,161.03h-5.5M355.2,148.74h2.8M598.8,148.74h-2.8M355.2,136.45h5.5M598.8,136.45h-5.5" stroke="#2e2e2e" stroke-width="1.3" fill="none"/>
<rect x="355.2" y="136.45" width="243.6" height="110.6" fill="none" stroke="#2e2e2e" stroke-width="1.35"/>
<text class="tl" text-anchor="end" transform="translate(350.6,164.9) scale(1.1,1)">1.0</text>
<text class="tl" text-anchor="end" transform="translate(350.6,189.5) scale(1.1,1)">0.0</text>
<text class="tl" text-anchor="end" transform="translate(350.6,214.1) scale(1.1,1)">−<tspan dx="1.6">1.0</tspan></text>
<text class="tl" text-anchor="end" transform="translate(350.6,238.7) scale(1.1,1)">−<tspan dx="1.6">2.0</tspan></text>
<text x="0" y="0" class="le" text-anchor="middle" transform="translate(318.9,191.8) rotate(-90)">log ϵ</text>
<text x="375.7" y="232.0" class="sl" fill="#a8102a" stroke="#a8102a">I−53</text>
<polyline points="367.38,285.60 371.44,305.80 375.50,289.80 379.56,313.60 383.62,303.20 391.74,299.00 395.80,319.70 399.86,308.80 403.92,325.50 407.98,308.00 440.46,295.40 444.52,316.60 448.58,310.80 452.64,323.60 456.70,309.70 464.82,314.60 468.88,323.50 472.94,312.20 477.00,329.60 481.06,310.30 485.12,328.90 489.18,314.40 493.24,335.20 497.30,314.50 501.36,345.70 505.42,326.20 529.78,294.90 533.84,314.40 546.02,301.80 578.50,337.40 586.62,356.40" fill="none" stroke="#a0a0a0" stroke-width="1.1" stroke-linejoin="miter"/>
<circle cx="367.38" cy="269.70" r="2.4" fill="#a80014"/>
<circle cx="371.44" cy="283.90" r="2.4" fill="#a80014"/>
<circle cx="375.50" cy="266.40" r="2.4" fill="#a80014"/>
<line x1="383.62" y1="286" x2="383.62" y2="292" stroke="#3a3a3a" stroke-width="1.0"/>
<circle cx="383.62" cy="289.20" r="2.4" fill="#a80014"/>
<circle cx="391.74" cy="281.10" r="2.4" fill="#a80014"/>
<circle cx="395.80" cy="312.80" r="2.4" fill="#a80014"/>
<circle cx="440.46" cy="274.70" r="2.4" fill="#a80014"/>
<circle cx="444.52" cy="306.80" r="2.4" fill="#a80014"/>
<circle cx="448.58" cy="296.50" r="2.4" fill="#a80014"/>
<circle cx="452.64" cy="318.90" r="2.4" fill="#a80014"/>
<circle cx="456.70" cy="300.30" r="2.4" fill="#a80014"/>
<circle cx="464.82" cy="310.90" r="2.4" fill="#a80014"/>
<circle cx="468.88" cy="324.00" r="2.4" fill="#a80014"/>
<line x1="472.94" y1="305" x2="472.94" y2="313" stroke="#3a3a3a" stroke-width="1.0"/>
<circle cx="472.94" cy="309.50" r="2.4" fill="#a80014"/>
<circle cx="477.00" cy="333.40" r="2.4" fill="#a80014"/>
<circle cx="481.06" cy="305.60" r="2.4" fill="#a80014"/>
<line x1="485.12" y1="327" x2="485.12" y2="335" stroke="#3a3a3a" stroke-width="1.0"/>
<circle cx="485.12" cy="331.10" r="2.4" fill="#a80014"/>
<circle cx="489.18" cy="307.80" r="2.4" fill="#a80014"/>
<circle cx="497.30" cy="314.50" r="2.4" fill="#a80014"/>
<circle cx="505.42" cy="316.60" r="2.4" fill="#a80014"/>
<circle cx="546.02" cy="285.80" r="2.4" fill="#a80014"/>
<path d="M355.20,363.2v-2.8M355.20,252.6v2.8M375.50,363.2v-5.5M375.50,252.6v5.5M395.80,363.2v-2.8M395.80,252.6v2.8M416.10,363.2v-5.5M416.10,252.6v5.5M436.40,363.2v-2.8M436.40,252.6v2.8M456.70,363.2v-5.5M456.70,252.6v5.5M477.00,363.2v-2.8M477.00,252.6v2.8M497.30,363.2v-5.5M497.30,252.6v5.5M517.60,363.2v-2.8M517.60,252.6v2.8M537.90,363.2v-5.5M537.90,252.6v5.5M558.20,363.2v-2.8M558.20,252.6v2.8M578.50,363.2v-5.5M578.50,252.6v5.5M598.80,363.2v-2.8M598.80,252.6v2.8M355.2,363.20h2.8M598.8,363.20h-2.8M355.2,350.91h5.5M598.8,350.91h-5.5M355.2,338.62h2.8M598.8,338.62h-2.8M355.2,326.33h5.5M598.8,326.33h-5.5M355.2,314.04h2.8M598.8,314.04h-2.8M355.2,301.76h5.5M598.8,301.76h-5.5M355.2,289.47h2.8M598.8,289.47h-2.8M355.2,277.18h5.5M598.8,277.18h-5.5M355.2,264.89h2.8M598.8,264.89h-2.8M355.2,252.60h5.5M598.8,252.60h-5.5" stroke="#2e2e2e" stroke-width="1.3" fill="none"/>
<rect x="355.2" y="252.6" width="243.6" height="110.6" fill="none" stroke="#2e2e2e" stroke-width="1.35"/>
<text class="tl" text-anchor="end" transform="translate(350.6,281.1) scale(1.1,1)">1.0</text>
<text class="tl" text-anchor="end" transform="translate(350.6,305.7) scale(1.1,1)">0.0</text>
<text class="tl" text-anchor="end" transform="translate(350.6,330.2) scale(1.1,1)">−<tspan dx="1.6">1.0</tspan></text>
<text class="tl" text-anchor="end" transform="translate(350.6,354.8) scale(1.1,1)">−<tspan dx="1.6">2.0</tspan></text>
<text x="0" y="0" class="le" text-anchor="middle" transform="translate(318.9,307.9) rotate(-90)">log ϵ</text>
<text x="375.7" y="348.2" class="sl" fill="#a8102a" stroke="#a8102a">I−80</text>
<text class="tl" style="font-size:12.1px;stroke-width:0.2px" text-anchor="middle" transform="translate(375.90,377.9) scale(1.1,1)">40</text>
<text class="tl" style="font-size:12.1px;stroke-width:0.2px" text-anchor="middle" transform="translate(416.50,377.9) scale(1.1,1)">50</text>
<text class="tl" style="font-size:12.1px;stroke-width:0.2px" text-anchor="middle" transform="translate(457.10,377.9) scale(1.1,1)">60</text>
<text class="tl" style="font-size:12.1px;stroke-width:0.2px" text-anchor="middle" transform="translate(497.70,377.9) scale(1.1,1)">70</text>
<text class="tl" style="font-size:12.1px;stroke-width:0.2px" text-anchor="middle" transform="translate(538.30,377.9) scale(1.1,1)">80</text>
<text class="tl" style="font-size:12.1px;stroke-width:0.2px" text-anchor="middle" transform="translate(578.90,377.9) scale(1.1,1)">90</text>
<text x="477.0" y="395.2" class="ax" text-anchor="middle">Atomic Number</text>
<text class="ti" transform="translate(167.7,10.8) scale(1.08,1)" style="letter-spacing:1.15px" fill="#2260d4" stroke="#2260d4" text-anchor="middle">r−only stars</text>
<text class="ti" transform="translate(479.8,12.0) scale(1.08,1)" style="letter-spacing:1.7px" fill="#a8102a" stroke="#a8102a" text-anchor="middle">r+s stars</text>
</svg>
</body></html>
